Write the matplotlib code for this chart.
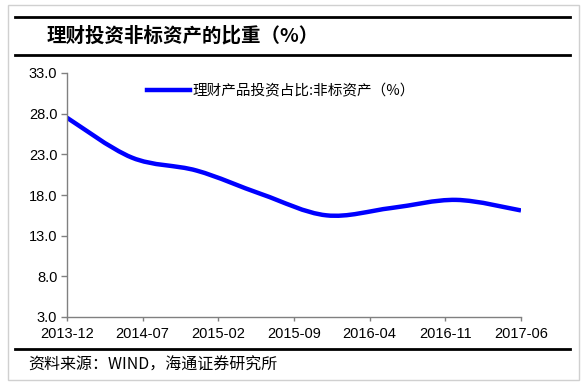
import matplotlib
matplotlib.use("Agg")
import matplotlib.pyplot as plt
from matplotlib.path import Path
from matplotlib.patches import PathPatch, Rectangle
from matplotlib.lines import Line2D

plt.rcParams["font.family"] = ["Liberation Sans", "Noto Sans CJK SC", "DejaVu Sans"]

# 半年度数据，x 为距 2013-12 的月数
months = [0, 6, 12, 18, 24, 30, 36, 42]
share = [27.5, 22.6, 21.0, 18.1, 15.5, 16.4, 17.4, 16.1]
tick_pos = [0, 7, 14, 21, 28, 35, 42]
tick_labels = ["2013-12", "2014-07", "2015-02", "2015-09", "2016-04", "2016-11", "2017-06"]
y_ticks = [3.0, 8.0, 13.0, 18.0, 23.0, 28.0, 33.0]

W, H = 588, 390
fig = plt.figure(figsize=(W / 100, H / 100), dpi=100)


def fx(px):
    return px / W


def fy(py):
    return 1 - py / H


ax = fig.add_axes([fx(67), fy(317), fx(521) - fx(67), fy(73) - fy(317)])

# Excel 风格的平滑曲线（贝塞尔）
pts = list(zip(months, share))
verts = [pts[0]]
codes = [Path.MOVETO]
n = len(pts)
for i in range(n - 1):
    p0 = pts[max(i - 1, 0)]
    p1 = pts[i]
    p2 = pts[i + 1]
    p3 = pts[min(i + 2, n - 1)]
    c1 = (p1[0] + (p2[0] - p0[0]) / 6, p1[1] + (p2[1] - p0[1]) / 6)
    c2 = (p2[0] - (p3[0] - p1[0]) / 6, p2[1] - (p3[1] - p1[1]) / 6)
    verts += [c1, c2, p2]
    codes += [Path.CURVE4] * 3
color = "#0000ff"
ax.add_patch(PathPatch(Path(verts, codes), facecolor="none", edgecolor=color,
                       lw=3.2, capstyle="butt", joinstyle="round"))

ax.set_xlim(0, 42)
ax.set_ylim(3, 33)
ax.set_xticks(tick_pos)
ax.set_xticklabels(tick_labels)
ax.set_yticks(y_ticks)
ax.set_yticklabels(["%.1f" % v for v in y_ticks])
ax.tick_params(labelsize=10.5, length=4, width=1, color="#808080", pad=3)
ax.tick_params(axis="x", pad=4, length=3)
for s in ["top", "right"]:
    ax.spines[s].set_visible(False)
for s in ["left", "bottom"]:
    ax.spines[s].set_color("#808080")
    ax.spines[s].set_linewidth(1)

h = Line2D([], [], color=color, lw=3.2)
fig.legend(handles=[h], labels=["理财产品投资占比:非标资产（%）"], loc="center left",
           bbox_to_anchor=(fx(147), fy(91)), frameon=False, borderpad=0,
           borderaxespad=0, handlelength=2.95, handletextpad=0.15,
           prop={"family": ["Noto Sans CJK SC", "DejaVu Sans"], "size": 10.5})

# 标题、线框与资料来源
fig.add_artist(Rectangle((fx(8), fy(380)), fx(579) - fx(8), fy(5) - fy(380),
                         transform=fig.transFigure, fill=False, ec="#d0d0d0", lw=1))
for yy in [17, 54.5, 349]:
    fig.add_artist(Line2D([fx(15), fx(570)], [fy(yy), fy(yy)], transform=fig.transFigure,
                          color="black", lw=2))
fig.text(fx(47), fy(35.5), "理财投资非标资产的比重（%）", fontsize=14, fontweight="bold",
         family=["Noto Sans CJK SC", "DejaVu Sans"], va="center", ha="left")
fig.text(fx(28), fy(365), "资料来源：WIND，海通证券研究所", fontsize=11.5,
         family=["Noto Sans CJK SC", "DejaVu Sans"], va="center", ha="left")

fig.savefig("out.png", dpi=100)
